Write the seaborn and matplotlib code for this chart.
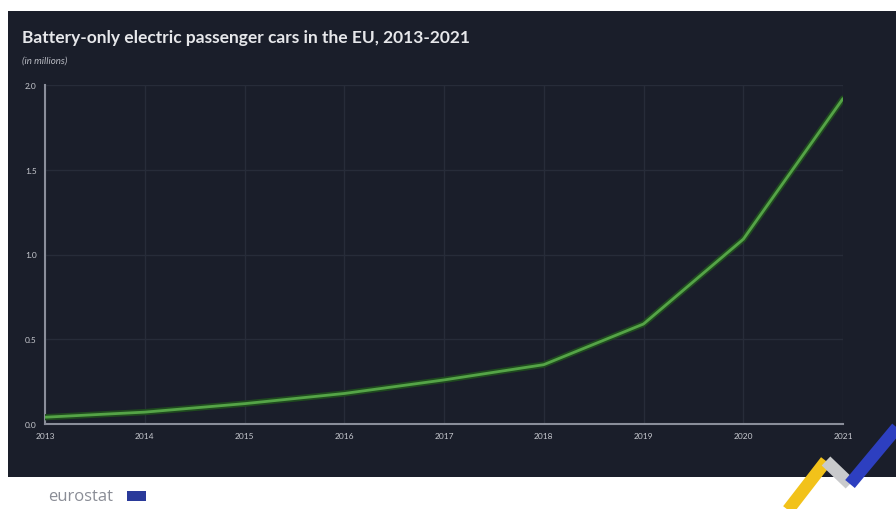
import matplotlib
matplotlib.use("Agg")
import matplotlib.pyplot as plt
import matplotlib.patheffects as pe
from matplotlib.patches import Rectangle
import seaborn as sns
import pandas as pd

years = [2013, 2014, 2015, 2016, 2017, 2018, 2019, 2020, 2021]
bev_millions = [0.04, 0.07, 0.12, 0.18, 0.26, 0.35, 0.59, 1.09, 1.92]
y_ticks = [0.0, 0.5, 1.0, 1.5, 2.0]
y_tick_labels = ["0.0", "0.5", "1.0", "1.5", "2.0"]
title = "Battery-only electric passenger cars in the EU, 2013-2021"
subtitle = "(in millions)"

df = pd.DataFrame({"year": years, "value": bev_millions})

sns.set_theme(style="dark")
plt.rcParams['font.family'] = ['Lato', 'Open Sans', 'DejaVu Sans']

W, H = 896, 510
fig = plt.figure(figsize=(W / 100, H / 100), dpi=100)
fig.patch.set_facecolor("white")

bg = "#1a1e2a"
# dark panel
fig.patches.append(Rectangle((8 / W, 1 - 478 / H), (W - 8) / W, (478 - 12) / H,
                             transform=fig.transFigure, facecolor=bg, edgecolor="none", zorder=-10))

ax = fig.add_axes([45 / W, 1 - 425 / H, (843 - 45) / W, (425 - 86) / H])
ax.set_facecolor(bg)

sns.lineplot(data=df, x="year", y="value", ax=ax, color="#55a447", linewidth=2.0,
             path_effects=[pe.Stroke(linewidth=4.5, foreground="#1f4a1f"), pe.Normal()], zorder=3)

ax.set_xlim(2013, 2021)
ax.set_ylim(0, 2.0)
ax.set_xticks(years)
ax.set_xticklabels([str(y) for y in years])
ax.set_yticks(y_ticks)
ax.set_yticklabels(y_tick_labels)
ax.set_xlabel("")
ax.set_ylabel("")
ax.grid(True, color="#272c39", linewidth=1.0)
ax.tick_params(axis="both", colors="#c8cad0", labelsize=6, length=0, pad=6)
for s in ["top", "right"]:
    ax.spines[s].set_visible(False)
for s in ["left", "bottom"]:
    ax.spines[s].set_visible(True)
    ax.spines[s].set_color("#8a8e9a")
    ax.spines[s].set_linewidth(1.5)

fig.text(22 / W, 1 - 38 / H, title, color="#e6e7ea", fontsize=12.5, fontweight="bold",
         va="center", ha="left")
fig.text(22 / W, 1 - 61 / H, subtitle, color="#b8bac2", fontsize=7, style="italic",
         va="center", ha="left")

# eurostat logo
fig.text(48 / W, 1 - 497 / H, "eurostat", color="#8a8d96", fontsize=12, va="center", ha="left",
         family=["Open Sans", "DejaVu Sans"])
fig.patches.append(Rectangle((127 / W, 1 - 502 / H), 19 / W, 10 / H, transform=fig.transFigure,
                             facecolor="#2a3a9a", edgecolor="none", zorder=2))

# decorative zigzag
def fx(x):
    return x / W
def fy(y):
    return 1 - y / H
fig.lines.append(plt.Line2D([fx(785), fx(826)], [fy(515), fy(462)], transform=fig.transFigure,
                            color="#f2c21a", linewidth=9, solid_capstyle="butt", zorder=5))
fig.lines.append(plt.Line2D([fx(826), fx(850)], [fy(462), fy(485)], transform=fig.transFigure,
                            color="#c9cacc", linewidth=9, solid_capstyle="butt", zorder=5))
fig.lines.append(plt.Line2D([fx(850), fx(900)], [fy(485), fy(425)], transform=fig.transFigure,
                            color="#2d3fc0", linewidth=9, solid_capstyle="butt", zorder=5))

fig.savefig("out.png", dpi=100, facecolor=fig.get_facecolor())
